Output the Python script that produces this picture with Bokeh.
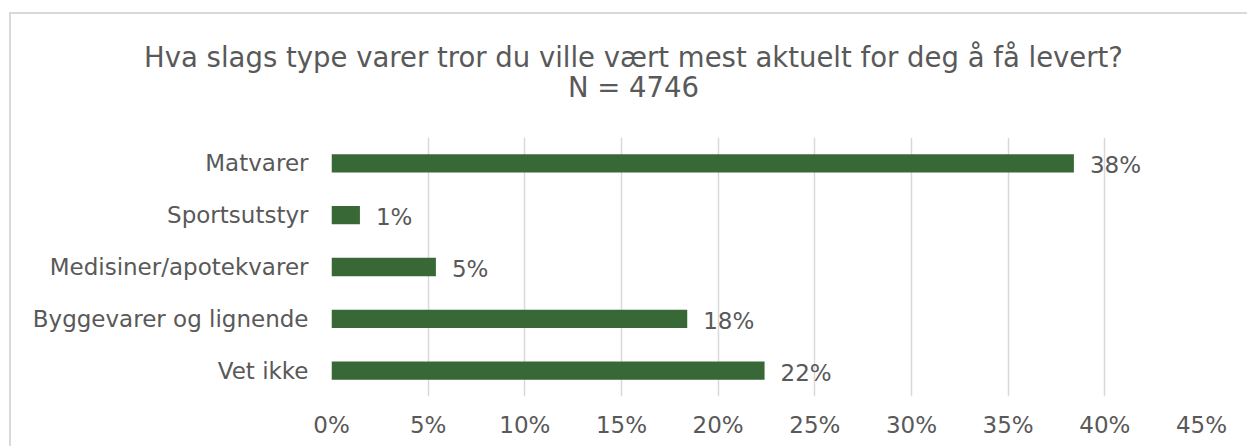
from bokeh.plotting import figure
from bokeh.layouts import column
from bokeh.models import FactorRange, Range1d, NumeralTickFormatter, FixedTicker, ColumnDataSource
from bokeh.core.properties import value
from bokeh.embed import file_html
from bokeh.resources import INLINE

# ---- data ----
categories = ["Matvarer", "Sportsutstyr", "Medisiner/apotekvarer", "Byggevarer og lignende", "Vet ikke"]
shares = [0.384, 0.0147, 0.054, 0.184, 0.224]
x_ticks = [0, 0.05, 0.10, 0.15, 0.20, 0.25, 0.30, 0.35, 0.40, 0.45]
title_lines = ["Hva slags type varer tror du ville vært mest aktuelt for deg å få levert?", "N = 4746"]

FONT = "DejaVu Sans"
TXT = "#595959"
BAR = "#376835"
GRID = "#d9d9d9"
BORDER = "2px solid #d9d9d9"

W = 1238
H_TITLE = 100

# ---- title strip (canvas-sized ranges, y measured from the top) ----
t = figure(width=W, height=H_TITLE, x_range=Range1d(0, W), y_range=Range1d(H_TITLE, 0),
           output_backend="svg", toolbar_location=None,
           x_axis_location=None, y_axis_location=None,
           min_border=0, min_border_left=0, min_border_right=0,
           min_border_top=0, min_border_bottom=0)
t.frame_align = False
t.margin = (12, 0, 0, 9)
t.styles = {"border-left": BORDER, "border-top": BORDER}
t.outline_line_color = None
t.grid.grid_line_color = None
t.background_fill_color = "white"
t.border_fill_color = "white"
t.text(x=[622, 622], y=[42, 72], text=title_lines,
       text_align="center", text_baseline="middle",
       text_font=value(FONT), text_font_size="27.5px", text_color=TXT)

# ---- bar chart ----
labels = [f"{round(v * 100)}%" for v in shares]
src = ColumnDataSource(dict(cat=categories, val=shares, lab=labels))

p = figure(
    width=W, height=334,
    y_range=FactorRange(factors=categories[::-1]),
    x_range=Range1d(0, 0.45),
    output_backend="svg", toolbar_location=None,
    min_border_left=320, min_border_right=48,
    min_border_top=25, min_border_bottom=50,
)
p.frame_align = False
p.margin = (0, 0, 0, 9)
p.styles = {"border-left": BORDER}
p.outline_line_color = None
p.background_fill_color = "white"
p.border_fill_color = "white"

p.hbar(y="cat", right="val", left=0, height=0.354, source=src,
       fill_color=BAR, line_color=None)

p.text(x="val", y="cat", text="lab", source=src, x_offset=16, y_offset=2,
       text_baseline="middle", text_align="left",
       text_font=value(FONT), text_font_size="23px", text_color=TXT)

p.xaxis.ticker = FixedTicker(ticks=x_ticks)
p.xaxis.formatter = NumeralTickFormatter(format="0%")
for ax in (p.xaxis[0], p.yaxis[0]):
    ax.axis_line_color = None
    ax.major_tick_line_color = None
    ax.minor_tick_line_color = None
    ax.major_label_text_font = FONT
    ax.major_label_text_font_size = "23px"
    ax.major_label_text_color = TXT
p.xaxis.major_label_standoff = 9
p.yaxis.major_label_standoff = 17

p.xgrid.grid_line_color = GRID
p.xgrid.grid_line_width = 1.5
p.ygrid.grid_line_color = None

layout = column(t, p, spacing=0)
open("out.html", "w").write(file_html(layout, INLINE))
